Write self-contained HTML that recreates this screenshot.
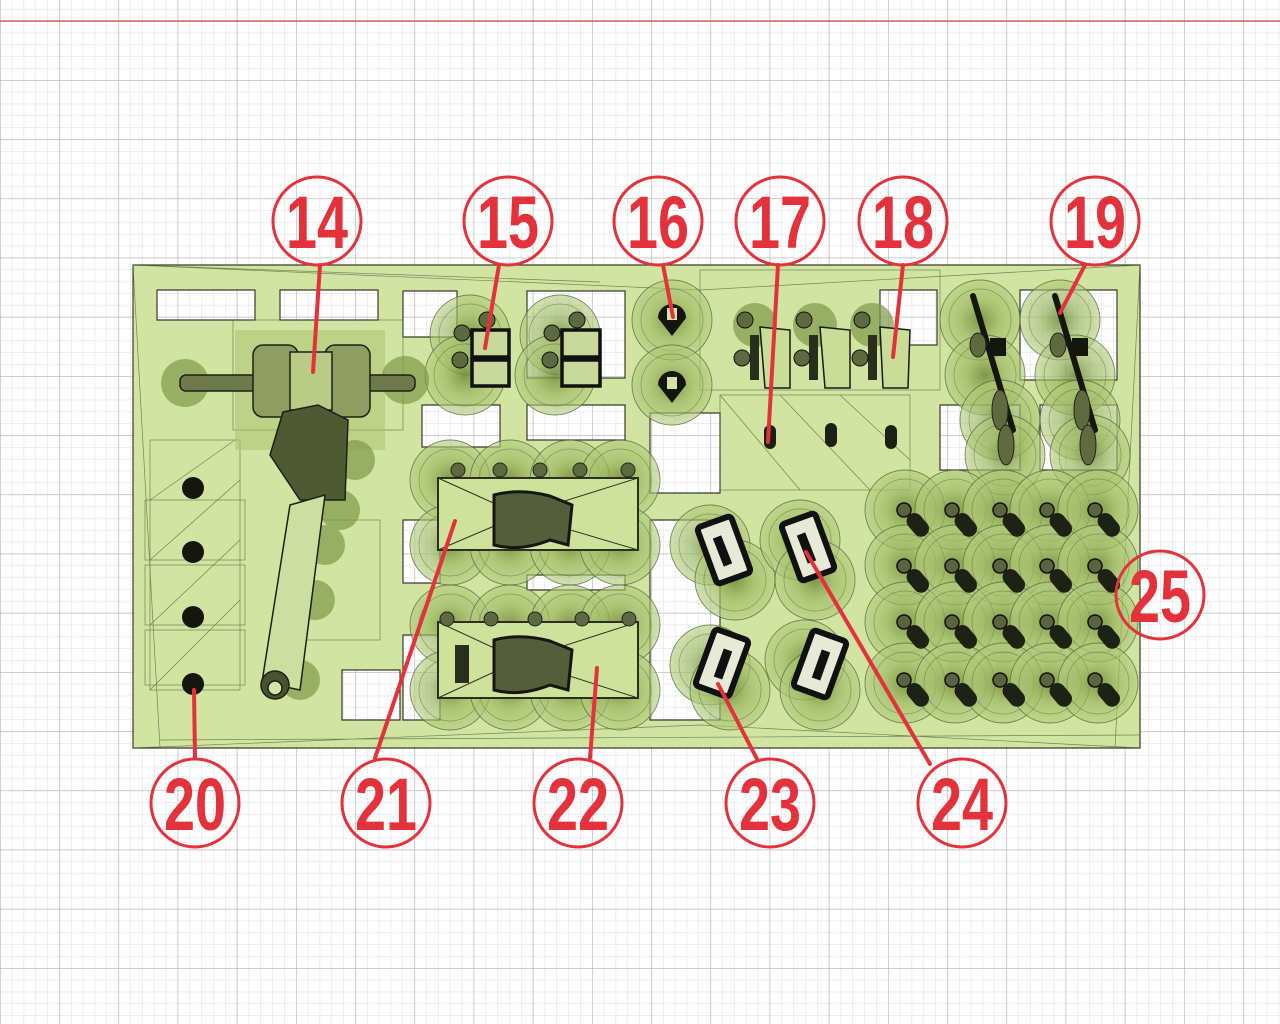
<!DOCTYPE html>
<html><head><meta charset="utf-8"><style>
html,body{margin:0;padding:0;background:#fff;}
svg{display:block}
.lbl{font-family:"Liberation Sans",sans-serif;font-weight:bold;font-size:74px;fill:#e4323c;text-anchor:middle}
</style></head><body>
<svg width="1280" height="1024" viewBox="0 0 1280 1024" xmlns="http://www.w3.org/2000/svg">
<defs>
<pattern id="minor" x="0" y="20.8" width="11.84" height="11.84" patternUnits="userSpaceOnUse">
<path d="M0 0H11.84M0 0V11.84" stroke="#dcdcdc" stroke-width="1" fill="none"/>
</pattern>
<pattern id="major" x="0" y="20.8" width="59.2" height="59.2" patternUnits="userSpaceOnUse">
<path d="M0 0H59.2M0 0V59.2" stroke="#b4b4b4" stroke-width="1.2" fill="none"/>
</pattern>
<radialGradient id="sup" cx="50%" cy="50%" r="50%">
<stop offset="0" stop-color="#6f8a3a" stop-opacity=".85"/>
<stop offset=".5" stop-color="#9bb862" stop-opacity=".7"/>
<stop offset="1" stop-color="#b2cc7c" stop-opacity=".6"/>
</radialGradient>
<g id="s"><circle r="40" fill="url(#sup)" stroke="#4e5e36" stroke-width=".9" stroke-opacity=".7"/><circle r="31" fill="none" stroke="#4e5e36" stroke-width=".7" stroke-opacity=".5"/></g>
<g id="cap"><circle cx="-8" cy="-8" r="7" fill="#5b6440" stroke="#111" stroke-width="1.5"/><rect x="-8" y="-4" width="16" height="26" rx="8" transform="rotate(-40)" fill="#1e2116"/></g>
</defs>
<rect width="1280" height="1024" fill="#fff"/>
<rect width="1280" height="1024" fill="url(#minor)"/>
<rect width="1280" height="1024" fill="url(#major)"/>
<line x1="0" y1="21" x2="1280" y2="21" stroke="#d03a3a" stroke-width="1.2"/>

<path fill-rule="evenodd" fill="#d0e39c" fill-opacity=".95" stroke="#3a3a2a" stroke-width="1.2" d="
M133 265H1140V748H133Z
M157 290H255V320H157Z
M280 290H378V320H280Z
M403 291H457V337H403Z
M527 291H625V378H527Z
M422 405H500V447H422Z
M527 405H625V440H527Z
M650 413H720V493H650Z
M403 520H440V583H403Z
M527 575H625V590H527Z
M403 635H440V720H403Z
M650 520H720V720H650Z
M880 290H937V345H880Z
M1020 290H1117V380H1020Z
M940 405H1020V470H940Z
M1040 405H1117V470H1040Z
M342 670H400V720H342Z"/>
<g stroke="#4a5a36" stroke-width=".7" fill="none" opacity=".7">
<path d="M133 265L700 290L1140 265M133 748L700 725L1140 748M133 265L160 748M1140 265L1115 748M133 265L600 282M160 740L1140 735"/>
<rect x="150" y="440" width="90" height="250"/><rect x="145" y="500" width="100" height="60"/><rect x="145" y="565" width="100" height="60"/><rect x="145" y="630" width="100" height="55"/>
<path d="M150 690L240 600M150 625L240 540M150 560L240 480M150 500L235 440"/>
<rect x="720" y="395" width="190" height="95"/><rect x="700" y="270" width="240" height="120"/>
<path d="M720 395L800 490M780 395L870 490M840 395L910 460"/>
<rect x="233" y="320" width="170" height="110"/><rect x="300" y="520" width="80" height="120"/>
</g>
<rect x="235" y="330" width="150" height="120" fill="#a7c06c" opacity=".5"/>

<g>
<use href="#s" x="470" y="335"/><use href="#s" x="465" y="375"/><use href="#s" x="560" y="335"/><use href="#s" x="555" y="375"/>
<use href="#s" x="672" y="320"/><use href="#s" x="672" y="385"/>
<use href="#s" x="980" y="320"/><use href="#s" x="985" y="375"/><use href="#s" x="1000" y="420"/><use href="#s" x="1005" y="455"/>
<use href="#s" x="1060" y="320"/><use href="#s" x="1075" y="375"/><use href="#s" x="1080" y="420"/><use href="#s" x="1090" y="455"/>
<use href="#s" x="450" y="480"/><use href="#s" x="510" y="480"/><use href="#s" x="570" y="480"/><use href="#s" x="620" y="480"/>
<use href="#s" x="450" y="545"/><use href="#s" x="510" y="545"/><use href="#s" x="570" y="545"/><use href="#s" x="620" y="545"/>
<use href="#s" x="450" y="625"/><use href="#s" x="510" y="625"/><use href="#s" x="570" y="625"/><use href="#s" x="620" y="625"/>
<use href="#s" x="450" y="690"/><use href="#s" x="510" y="690"/><use href="#s" x="570" y="690"/><use href="#s" x="620" y="690"/>
<use href="#s" x="710" y="545"/><use href="#s" x="735" y="580"/><use href="#s" x="800" y="540"/><use href="#s" x="815" y="580"/>
<use href="#s" x="710" y="665"/><use href="#s" x="730" y="690"/><use href="#s" x="805" y="660"/><use href="#s" x="820" y="690"/>
<use href="#s" x="905" y="510"/><use href="#s" x="955" y="510"/><use href="#s" x="1003" y="510"/><use href="#s" x="1050" y="510"/><use href="#s" x="1098" y="510"/>
<use href="#s" x="905" y="565"/><use href="#s" x="955" y="565"/><use href="#s" x="1003" y="565"/><use href="#s" x="1050" y="565"/><use href="#s" x="1098" y="565"/>
<use href="#s" x="905" y="622"/><use href="#s" x="955" y="622"/><use href="#s" x="1003" y="622"/><use href="#s" x="1050" y="622"/><use href="#s" x="1098" y="622"/>
<use href="#s" x="905" y="683"/><use href="#s" x="955" y="683"/><use href="#s" x="1003" y="683"/><use href="#s" x="1050" y="683"/><use href="#s" x="1098" y="683"/>
</g>
<g fill="#7f9a48" opacity=".7">
<circle cx="185" cy="383" r="24"/><circle cx="405" cy="380" r="24"/><circle cx="755" cy="325" r="22"/><circle cx="815" cy="325" r="22"/><circle cx="872" cy="325" r="22"/>
<circle cx="340" cy="510" r="20"/><circle cx="325" cy="545" r="20"/><circle cx="315" cy="600" r="20"/><circle cx="300" cy="680" r="20"/><circle cx="355" cy="460" r="20"/>
</g>

<g stroke="#1d2014" stroke-width="1.5">
<rect x="180" y="375" width="235" height="16" rx="6" fill="#6f7a4c"/>
<rect x="253" y="345" width="45" height="72" rx="10" fill="#8f9c62"/>
<rect x="325" y="345" width="45" height="72" rx="10" fill="#8f9c62"/>
<rect x="290" y="352" width="42" height="58" fill="#b9cb86"/>
<path d="M283 412L318 405L348 420L345 500L300 500L270 455Z" fill="#4f5a34"/>
<path d="M290 505L325 495L300 690L262 682Z" fill="#cddfa0"/>
<circle cx="275" cy="685" r="14" fill="#4a5234"/><circle cx="275" cy="688" r="7" fill="#d5e5a9"/>
</g>
<g fill="#15170f"><circle cx="193" cy="488" r="11"/><circle cx="193" cy="552" r="11"/><circle cx="193" cy="617" r="11"/><circle cx="193" cy="684" r="11"/></g>

<g stroke="#111" stroke-width="3.5" fill="#c7d89a">
<rect x="472" y="330" width="37" height="27"/><rect x="472" y="360" width="37" height="26"/>
<rect x="562" y="330" width="38" height="27"/><rect x="562" y="360" width="38" height="26"/>
</g>
<g fill="#5d6a40" stroke="#111"><circle cx="462" cy="333" r="8"/><circle cx="460" cy="360" r="8"/><circle cx="552" cy="333" r="8"/><circle cx="550" cy="360" r="8"/><circle cx="487" cy="320" r="8"/><circle cx="577" cy="320" r="8"/></g>
<g fill="#15170f"><path d="M658 318a14 14 0 0 1 28 0l-14 18z"/><path d="M658 385a14 14 0 0 1 28 0l-14 18z"/></g>
<g fill="#d5e5a9"><rect x="667" y="308" width="10" height="12"/><rect x="667" y="377" width="10" height="12"/></g>
<g stroke="#1a1a10" stroke-width="1.5" fill="#cadd98">
<path d="M760 327L790 330L790 388L765 388Z"/><path d="M820 327L850 330L850 388L825 388Z"/><path d="M880 327L910 330L908 388L883 388Z"/>
</g>
<g fill="#2a2e1c"><rect x="750" y="335" width="9" height="45"/><rect x="809" y="335" width="9" height="45"/><rect x="868" y="335" width="9" height="45"/></g>
<g fill="#5d6a40" stroke="#111"><circle cx="745" cy="320" r="8"/><circle cx="742" cy="358" r="8"/><circle cx="804" cy="320" r="8"/><circle cx="802" cy="358" r="8"/><circle cx="862" cy="320" r="8"/><circle cx="860" cy="358" r="8"/></g>
<g fill="#1d2014"><rect x="764" y="425" width="12" height="24" rx="6"/><rect x="825" y="423" width="12" height="24" rx="6"/><rect x="885" y="425" width="12" height="24" rx="6"/></g>
<g stroke="#15170f" stroke-width="6" stroke-linecap="round"><line x1="973" y1="296" x2="1013" y2="430"/><line x1="1055" y1="296" x2="1095" y2="430"/></g>
<g fill="#15170f"><rect x="990" y="338" width="16" height="18"/><rect x="1072" y="338" width="16" height="18"/></g>
<g fill="#5f6b3e" stroke="#222"><ellipse cx="1000" cy="410" rx="8" ry="20"/><ellipse cx="1006" cy="445" rx="8" ry="20"/><ellipse cx="1082" cy="410" rx="8" ry="20"/><ellipse cx="1088" cy="445" rx="8" ry="20"/>
<ellipse cx="978" cy="345" rx="8" ry="12"/><ellipse cx="1058" cy="345" rx="8" ry="12"/></g>
<g stroke="#2c3020" stroke-width="2" fill="#cfe29c">
<rect x="438" y="478" width="200" height="72"/><rect x="438" y="622" width="200" height="76"/>
</g>
<g stroke="#2c3020" fill="none" stroke-width="1"><path d="M438 478L520 515L638 478M438 550L520 515L638 550M438 622L520 660L638 622M438 698L520 660L638 698"/></g>
<g fill="#545e3a" stroke="#15170f" stroke-width="3">
<path d="M494 495Q520 488 550 496L572 505L568 545L550 540Q520 552 494 545Z"/>
<path d="M494 640Q520 633 550 641L572 650L568 690L550 685Q520 697 494 690Z"/>
</g>
<g fill="#5d6a40" stroke="#222"><circle cx="458" cy="470" r="7"/><circle cx="500" cy="470" r="7"/><circle cx="540" cy="470" r="7"/><circle cx="580" cy="470" r="7"/><circle cx="628" cy="470" r="7"/>
<circle cx="447" cy="619" r="7"/><circle cx="491" cy="619" r="7"/><circle cx="535" cy="619" r="7"/><circle cx="582" cy="619" r="7"/><circle cx="629" cy="619" r="7"/></g>
<rect x="455" y="645" width="14" height="38" fill="#2a2e1c"/>
<g stroke="#111" stroke-width="6" fill="#e8ead8">
<rect x="-18" y="-30" width="36" height="60" rx="4" transform="translate(724 550) rotate(-20)"/>
<rect x="-18" y="-30" width="36" height="60" rx="4" transform="translate(808 547) rotate(-20)"/>
<rect x="-18" y="-30" width="36" height="60" rx="4" transform="translate(722 663) rotate(20)"/>
<rect x="-18" y="-30" width="36" height="60" rx="4" transform="translate(820 664) rotate(20)"/>
</g>
<g stroke="#111" stroke-width="9"><line x1="717" y1="537" x2="728" y2="565"/><line x1="801" y1="534" x2="812" y2="562"/><line x1="728" y1="650" x2="718" y2="678"/><line x1="826" y1="651" x2="816" y2="679"/></g>
<g>
<use href="#cap" x="912" y="518"/><use href="#cap" x="960" y="518"/><use href="#cap" x="1008" y="518"/><use href="#cap" x="1055" y="518"/><use href="#cap" x="1103" y="518"/>
<use href="#cap" x="912" y="574"/><use href="#cap" x="960" y="574"/><use href="#cap" x="1008" y="574"/><use href="#cap" x="1055" y="574"/><use href="#cap" x="1103" y="574"/>
<use href="#cap" x="912" y="630"/><use href="#cap" x="960" y="630"/><use href="#cap" x="1008" y="630"/><use href="#cap" x="1055" y="630"/><use href="#cap" x="1103" y="630"/>
<use href="#cap" x="912" y="688"/><use href="#cap" x="960" y="688"/><use href="#cap" x="1008" y="688"/><use href="#cap" x="1055" y="688"/><use href="#cap" x="1103" y="688"/>
</g>

<g stroke="#e4323c" stroke-width="4" stroke-linecap="round">
<line x1="320" y1="265" x2="313" y2="372"/>
<line x1="499" y1="265" x2="485" y2="348"/>
<line x1="663" y1="265" x2="673" y2="317"/>
<line x1="778" y1="265" x2="768" y2="442"/>
<line x1="903" y1="265" x2="893" y2="357"/>
<line x1="1085" y1="265" x2="1060" y2="313"/>
<line x1="195" y1="758" x2="194" y2="690"/>
<line x1="375" y1="758" x2="455" y2="521"/>
<line x1="590" y1="758" x2="597" y2="668"/>
<line x1="757" y1="759" x2="718" y2="684"/>
<line x1="930" y1="764" x2="806" y2="552"/>
</g>
<g fill="none" stroke="#e4323c" stroke-width="3">
<circle cx="317" cy="221" r="44"/><circle cx="508" cy="221" r="44"/><circle cx="658" cy="221" r="44"/><circle cx="780" cy="221" r="44"/><circle cx="903" cy="221" r="44"/><circle cx="1095" cy="221" r="44"/>
<circle cx="195" cy="803" r="44"/><circle cx="386" cy="803" r="44"/><circle cx="578" cy="803" r="44"/><circle cx="770" cy="803" r="44"/><circle cx="962" cy="803" r="44"/><circle cx="1160" cy="595" r="44"/>
</g>
<g>
<text x="317" y="248" class="lbl" textLength="62" lengthAdjust="spacingAndGlyphs">14</text>
<text x="508" y="248" class="lbl" textLength="62" lengthAdjust="spacingAndGlyphs">15</text>
<text x="658" y="248" class="lbl" textLength="62" lengthAdjust="spacingAndGlyphs">16</text>
<text x="780" y="248" class="lbl" textLength="62" lengthAdjust="spacingAndGlyphs">17</text>
<text x="903" y="248" class="lbl" textLength="62" lengthAdjust="spacingAndGlyphs">18</text>
<text x="1095" y="248" class="lbl" textLength="62" lengthAdjust="spacingAndGlyphs">19</text>
<text x="195" y="830" class="lbl" textLength="62" lengthAdjust="spacingAndGlyphs">20</text>
<text x="386" y="830" class="lbl" textLength="62" lengthAdjust="spacingAndGlyphs">21</text>
<text x="578" y="830" class="lbl" textLength="62" lengthAdjust="spacingAndGlyphs">22</text>
<text x="770" y="830" class="lbl" textLength="62" lengthAdjust="spacingAndGlyphs">23</text>
<text x="962" y="830" class="lbl" textLength="62" lengthAdjust="spacingAndGlyphs">24</text>
<text x="1160" y="622" class="lbl" textLength="62" lengthAdjust="spacingAndGlyphs">25</text>
</g>
</svg>
</body></html>
